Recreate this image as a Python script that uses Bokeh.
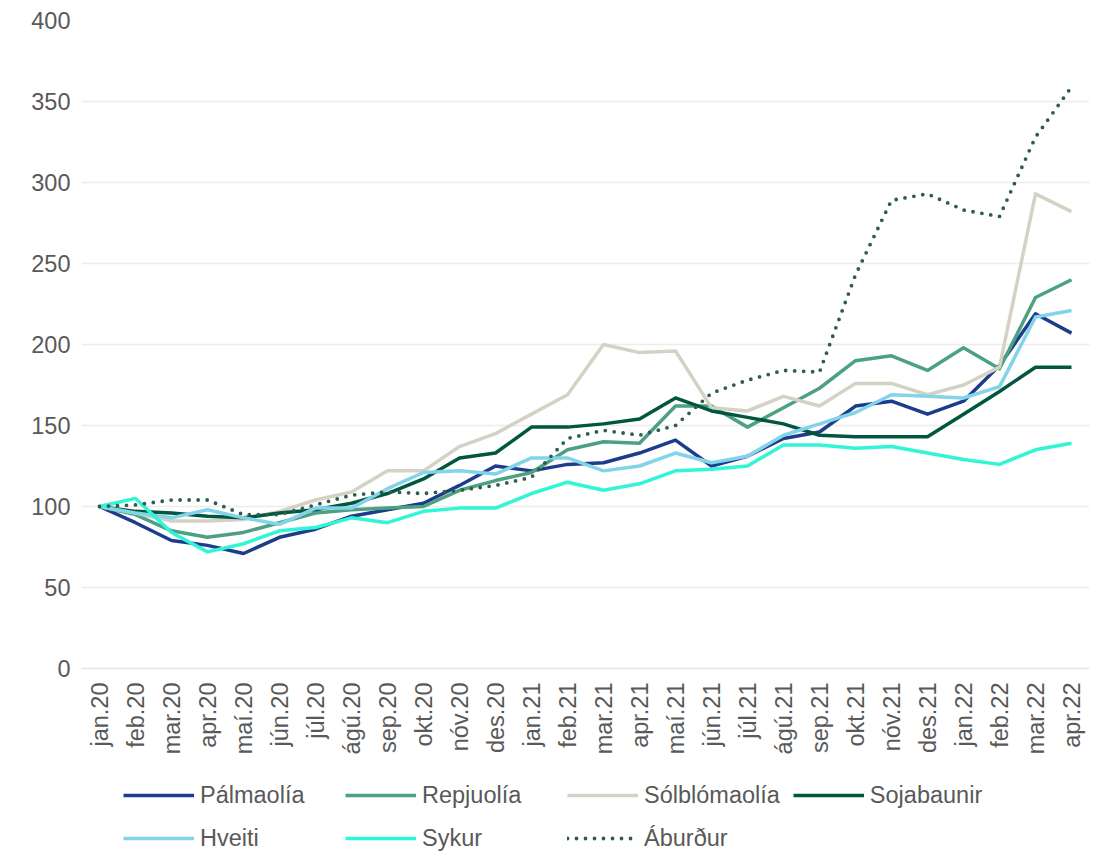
import math
from bokeh.plotting import figure
from bokeh.layouts import column
from bokeh.models import Legend, LegendItem, Range1d, FixedTicker
from bokeh.embed import file_html
from bokeh.resources import INLINE

months = ["jan.20", "feb.20", "mar.20", "apr.20", "maí.20", "jún.20", "júl.20", "ágú.20",
          "sep.20", "okt.20", "nóv.20", "des.20", "jan.21", "feb.21", "mar.21", "apr.21",
          "maí.21", "jún.21", "júl.21", "ágú.21", "sep.21", "okt.21", "nóv.21", "des.21",
          "jan.22", "feb.22", "mar.22", "apr.22"]

palmaolia = [100, 90, 79, 76, 71, 81, 86, 94, 98, 102, 113, 125, 122, 126, 127, 133,
             141, 125, 131, 142, 146, 162, 165, 157, 165, 187, 219, 207]
repjuolia = [100, 95, 85, 81, 84, 90, 96, 98, 99, 100, 110, 116, 121, 135, 140, 139,
             162, 162, 149, 161, 173, 190, 193, 184, 198, 185, 229, 240]
solblomaolia = [100, 96, 91, 91, 92, 97, 104, 109, 122, 122, 137, 145, 157, 169, 200, 195,
                196, 161, 159, 168, 162, 176, 176, 169, 175, 186, 293, 282]
sojabaunir = [100, 97, 96, 94, 93, 96, 98, 102, 108, 117, 130, 133, 149, 149, 151, 154,
              167, 159, 155, 151, 144, 143, 143, 143, 157, 171, 186, 186]
hveiti = [100, 96, 93, 98, 93, 89, 99, 99, 111, 121, 122, 120, 130, 130, 122, 125,
          133, 127, 131, 144, 151, 158, 169, 168, 167, 174, 217, 221]
sykur = [100, 105, 84, 72, 77, 85, 87, 93, 90, 97, 99, 99, 108, 115, 110, 114,
         122, 123, 125, 138, 138, 136, 137, 133, 129, 126, 135, 139]
aburdur = [100, 101, 104, 104, 95, 95, 101, 107, 109, 108, 110, 113, 118, 142, 147, 144,
           150, 170, 178, 184, 183, 243, 289, 293, 283, 279, 328, 359]

y_ticks = [0, 50, 100, 150, 200, 250, 300, 350, 400]

FONT = "Liberation Sans"
TXT = "#595959"
FS = "23.5px"

p = figure(x_range=months, y_range=Range1d(0, 400), frame_width=1008, frame_height=648,
           output_backend="svg", toolbar_location=None,
           min_border_left=81, min_border_top=20, min_border_right=10, min_border_bottom=92)

p.outline_line_color = None
p.background_fill_color = "white"
p.border_fill_color = "white"

p.xgrid.grid_line_color = None
p.ygrid.grid_line_color = "#ececec"
p.ygrid.grid_line_width = 1.5

p.yaxis.ticker = FixedTicker(ticks=y_ticks)
p.yaxis.axis_line_color = None
p.yaxis.major_tick_line_color = None
p.yaxis.minor_tick_line_color = None
p.yaxis.major_tick_out = 0
p.yaxis.minor_tick_out = 0
p.yaxis.major_label_standoff = 11
p.yaxis.major_label_text_font = FONT
p.yaxis.major_label_text_font_size = FS
p.yaxis.major_label_text_color = TXT

p.xaxis.axis_line_color = "#e3e3e3"
p.xaxis.axis_line_width = 1.5
p.xaxis.major_tick_line_color = None
p.xaxis.minor_tick_line_color = None
p.xaxis.major_tick_out = 0
p.xaxis.minor_tick_out = 0
p.xaxis.major_label_orientation = math.pi / 2
p.xaxis.major_label_standoff = 14
p.xaxis.major_label_text_font = FONT
p.xaxis.major_label_text_font_size = FS
p.xaxis.major_label_text_color = TXT

series = [
    ("Pálmaolía", palmaolia, "#1e3c8c", "solid"),
    ("Repjuolía", repjuolia, "#4ca183", "solid"),
    ("Sólblómaolía", solblomaolia, "#d3d2c4", "solid"),
    ("Sojabaunir", sojabaunir, "#00563e", "solid"),
    ("Hveiti", hveiti, "#82d4ea", "solid"),
    ("Sykur", sykur, "#30f5d6", "solid"),
    ("Áburður", aburdur, "#2b5e4c", "dotted"),
]

# Legend lives in a second, axis-less figure directly below the chart.
# Its copies of the series sit outside that figure's visible range, so only
# the legend entries show.
p2 = figure(width=1099, height=91, x_range=Range1d(0, 1), y_range=Range1d(-1000, -999),
            output_backend="svg", toolbar_location=None, x_axis_type=None, y_axis_type=None,
            min_border=0, min_border_left=0, min_border_right=0, min_border_top=0,
            min_border_bottom=0)
p2.outline_line_color = None
p2.xgrid.grid_line_color = None
p2.ygrid.grid_line_color = None
p2.background_fill_color = "white"
p2.border_fill_color = "white"

idx = list(range(len(months)))
items = []
for name, vals, col, dash in series:
    if dash == "solid":
        kw = dict(line_color=col, line_width=3.5, line_join="round")
    else:
        kw = dict(line_color=col, line_width=3.8, line_dash="0 9", line_cap="round",
                  line_join="round")
    p.line(months, vals, **kw)
    r2 = p2.line(idx, vals, **kw)
    items.append(LegendItem(label=name, renderers=[r2]))

legend = Legend(items=items, orientation="horizontal", ncols=4,
                location=(42, -2), padding=0, margin=0, spacing=13,
                glyph_width=71, glyph_height=30, label_height=30, label_width=132,
                label_standoff=6, label_text_font=FONT, label_text_font_size=FS,
                label_text_color=TXT, border_line_color=None, background_fill_alpha=0)
p2.add_layout(legend, "center")

layout = column(p, p2, spacing=0)
open("out.html", "w").write(file_html(layout, INLINE))
